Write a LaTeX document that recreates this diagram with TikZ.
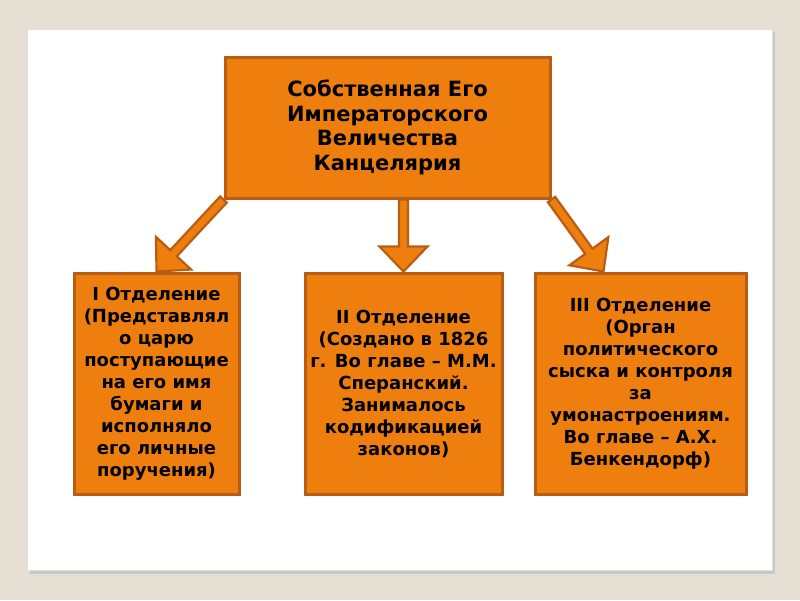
\documentclass[tikz,border=0pt]{standalone}
\usepackage{fontspec}
\setmainfont{DejaVu Sans}
\usetikzlibrary{calc,positioning,backgrounds}
\definecolor{slidebg}{RGB}{229,223,212}
\definecolor{boxfill}{RGB}{238,127,14}
\definecolor{boxline}{RGB}{184,94,20}
\tikzset{
chart/.style={x=1pt, y=-1pt, font=\bfseries},
box/.style={draw=boxline, fill=boxfill, line width=3pt, align=center, inner sep=4pt},
topbox/.style={box, minimum width=325pt, minimum height=141pt,
  font=\bfseries\fontsize{21}{24.5}\selectfont},
dept/.style={box, minimum height=221pt,
  font=\bfseries\fontsize{18}{22}\selectfont},
bigarrow/.style={draw=boxline, fill=boxfill, line width=2.2pt},
}
% block arrow from #1 to #2
\newcommand\blockarrow[2]{%
\coordinate (neck) at ($(#2)!25pt!(#1)$);
\draw[bigarrow] ($(#1)!4.5pt!90:(#2)$) -- ($(neck)!4.5pt!90:(#2)$)
  -- ($(neck)!24pt!90:(#2)$) -- (#2) -- ($(neck)!24pt!-90:(#2)$)
  -- ($(neck)!4.5pt!-90:(#2)$) -- ($(#1)!4.5pt!-90:(#2)$) -- cycle;}

\begin{document}
\begin{tikzpicture}[chart]
\node[topbox] (chancery) at (387.5,127.5) {Собственная Его\\Императорского\\Величества\\Канцелярия};
\node[dept, minimum width=165pt] (first) at (156.5,383.5) {I Отделение\\(Представлял\\о царю\\поступающие\\на его имя\\бумаги и\\исполняло\\его личные\\поручения)};
\node[dept, minimum width=197pt] (second) at (403.5,383.5) {II Отделение\\(Создано в 1826\\г. Во главе – М.М.\\Сперанский.\\Занималось\\кодификацией\\законов)};
\node[dept, minimum width=211pt] (third) at (640.5,383.5) {III Отделение\\(Орган\\политического\\сыска и контроля\\за\\умонастроениям.\\Во главе – А.Х.\\Бенкендорф)};
%
\coordinate (second-tail) at (second.north |- chancery.south);
\coordinate (third-tip) at ($(third.north)+(-37,0)$);
%
\begin{scope}[on background layer]
\fill[slidebg] (0,0) rectangle (800,600);
\fill[black!22] (30,32) rectangle (775,574);
\fill[white, draw=black!12] (27,29) rectangle (772,570);
\blockarrow{chancery.south west}{first.north}
\blockarrow{second-tail}{second.north}
\blockarrow{chancery.south east}{third-tip}
\end{scope}
\end{tikzpicture}
\end{document}
